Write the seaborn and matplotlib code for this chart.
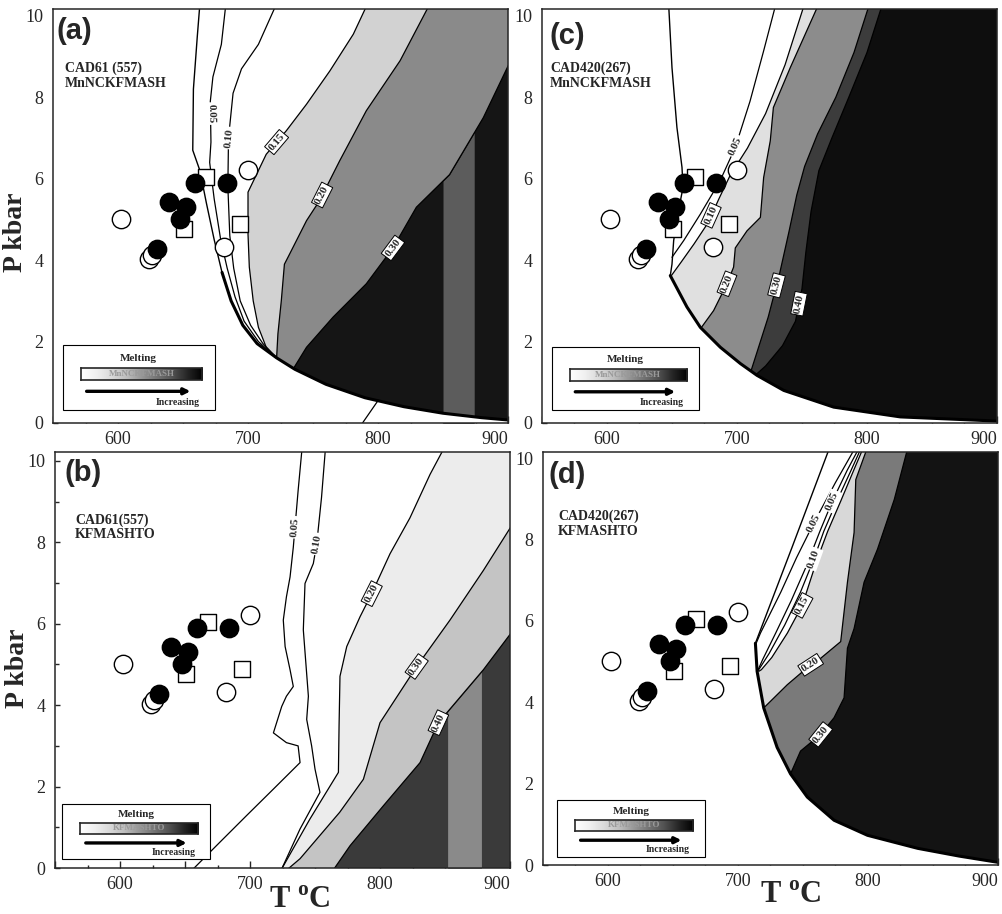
import numpy as np
import matplotlib
matplotlib.use('Agg')
import matplotlib.pyplot as plt
from matplotlib.ticker import MultipleLocator
import seaborn as sns

# P-T estimates of the samples (same in every panel)
OPEN_T = [602, 624, 626, 681.5, 700]
OPEN_P = [5.02, 4.02, 4.13, 4.33, 6.21]
FILLED_T = [630, 639, 652, 648, 659, 684]
FILLED_P = [4.28, 5.42, 5.3, 5.02, 5.89, 5.9]
SQUARE_T = [668, 650.5, 693.5]
SQUARE_P = [6.05, 4.77, 4.89]

# (a) CAD61 MnNCKFMASH
A_SOL_T = [663, 661, 658, 657.5, 663, 668, 674, 680, 687, 696, 707, 722, 736, 760, 790, 820, 850, 880, 905]
A_SOL_P = [10.3, 9.5, 8.2, 6.7, 6.2, 5.4, 4.5, 3.7, 3.0, 2.4, 1.95, 1.6, 1.32, 0.95, 0.62, 0.4, 0.24, 0.13, 0.06]
A_05_T = [683, 679.5, 673, 671, 671.5, 670.5, 674, 679, 684, 690, 697, 708, 722]
A_05_P = [10.3, 9.3, 8.5, 7.9, 6.9, 6.4, 5.5, 4.5, 3.8, 3.1, 2.5, 2.0, 1.6]
A_10_T = [722, 708, 695, 688.5, 685, 684.5, 686, 689, 694, 702, 711.5, 722]
A_10_P = [10.3, 9.3, 8.7, 8.1, 7.0, 5.8, 4.6, 3.8, 3.0, 2.4, 1.95, 1.6]
A_15_T = [792, 781, 763, 745, 729.5, 714, 700, 700, 701, 704, 708, 714, 722]
A_15_P = [10.3, 9.55, 8.65, 7.83, 7.18, 6.6, 5.67, 4.64, 3.83, 3.0, 2.35, 1.86, 1.6]
A_20_T = [840, 817, 791, 770.5, 755, 745, 732, 728, 725.6, 723, 722]
A_20_P = [10.3, 8.9, 7.67, 6.44, 5.46, 4.97, 4.15, 3.9, 3.0, 2.19, 1.6]
A_30_T = [905, 881, 855, 829.5, 811.5, 791, 765.4, 745, 735]
A_30_P = [9.1, 7.5, 6.1, 5.3, 4.3, 3.42, 2.6, 1.86, 1.34]
A_X_T = [787, 800]
A_X_P = [-0.05, 0.55]
A_BAND_T = [850, 874]
A_LAB_TXT = ['0.05', '0.10', '0.15', '0.20', '0.30']
A_LAB_T = [672, 685.5, 722, 757, 811.5]
A_LAB_P = [7.6, 7.0, 6.9, 5.6, 4.3]

# (b) CAD61 KFMASHTO
B_05_T = [740, 737, 734.6, 733.3, 730.8, 728, 725.6, 727, 730.8, 733.3, 728, 724.4, 718, 728, 737, 738.5, 718, 697.4, 677, 656.4]
B_05_P = [10.3, 9.27, 8.37, 7.88, 7.15, 6.66, 6.09, 5.44, 4.87, 4.46, 4.22, 3.97, 3.32, 3.08, 3.0, 2.59, 1.94, 1.29, 0.64, -0.02]
B_10_T = [758, 755, 751.3, 748.7, 742.3, 741, 744.9, 743.6, 747.4, 750, 753.8, 738.5, 724.4]
B_10_P = [10.3, 9.1, 7.96, 7.48, 6.99, 5.85, 4.22, 3.65, 3.0, 2.43, 1.86, 0.96, -0.02]
B_20_T = [849, 838.5, 823, 807.7, 793.6, 784.6, 774.4, 769.2, 768.5, 768, 746, 724.4]
B_20_P = [10.3, 9.67, 8.6, 7.72, 6.74, 6.17, 5.44, 4.71, 3.5, 2.35, 1.2, -0.02]
B_30_T = [905, 879.5, 853.8, 828.2, 800, 787.2, 769, 738.5, 728.2]
B_30_P = [8.6, 7.31, 6.09, 4.95, 3.57, 2.18, 1.37, 0.23, -0.05]
B_40_T = [905, 879.5, 844.9, 830.8, 802.6, 777, 764]
B_40_P = [5.95, 4.87, 3.57, 2.59, 1.53, 0.55, -0.05]
B_BAND_T = [852, 878]
B_LAB_TXT = ['0.05', '0.10', '0.20', '0.30', '0.40']
B_LAB_T = [734.6, 751.3, 793.6, 828.2, 844.9]
B_LAB_P = [8.37, 7.96, 6.74, 4.95, 3.57]

# (c) CAD420 MnNCKFMASH
C_SOL_T = [647.4, 650, 653.8, 657.7, 658.5, 654, 651.3, 650, 648.7, 661.5, 671.8, 687.2, 702.6, 715.4, 736, 774.4, 825.6, 905]
C_SOL_P = [10.3, 8.73, 7.26, 6.28, 5.79, 5.05, 4.48, 3.9, 3.62, 2.85, 2.35, 1.86, 1.46, 1.17, 0.8, 0.39, 0.15, 0.04]
C_05_T = [730, 720.5, 710, 698.7, 687, 671.8, 659, 650]
C_05_P = [10.3, 9.14, 7.9, 6.77, 5.95, 5.13, 4.48, 4.07]
C_10_T = [752, 737, 722, 708, 695, 686, 678, 667, 657, 649.5]
C_10_P = [10.3, 8.8, 7.6, 6.75, 6.1, 5.5, 4.93, 4.4, 3.95, 3.62]
C_20_T = [763, 741, 728, 725.6, 720.5, 718, 707.7, 698.7, 697.4, 692.3, 682, 672]
C_20_P = [10.3, 8.73, 7.75, 6.93, 6.03, 5.05, 4.72, 4.3, 3.83, 3.42, 2.76, 2.32]
C_30_T = [802, 790, 776, 762, 752, 746, 740, 733, 724, 716, 711]
C_30_P = [10.3, 9.1, 8.0, 7.1, 6.3, 5.6, 4.7, 3.7, 2.6, 1.8, 1.3]
C_40_T = [812, 800, 786, 773, 763, 757, 753, 750, 745, 735, 722, 715]
C_40_P = [10.3, 9.1, 8.0, 7.0, 6.2, 5.2, 4.2, 3.3, 2.5, 1.9, 1.4, 1.2]
C_LAB_TXT = ['0.05', '0.10', '0.20', '0.30', '0.40']
C_LAB_T = [699, 680, 692.3, 730.4, 747.7]
C_LAB_P = [6.8, 5.1, 3.42, 3.38, 2.93]

# (d) CAD420 KFMASHTO
D_SOL_T = [771, 741.5, 713.4, 714.7, 719.8, 730.1, 740.4, 753.3, 773.9, 799.6, 838.2, 870, 905]
D_SOL_P = [10.3, 7.8, 5.45, 4.76, 3.86, 2.89, 2.24, 1.67, 1.1, 0.73, 0.41, 0.22, 0.04]
D_05A_T = [791, 775, 758.4, 745, 733, 717.3, 714]
D_05A_P = [10.3, 9.4, 8.41, 7.55, 6.71, 5.7, 5.45]
D_05B_T = [794, 784, 772.6, 763, 752, 741, 729, 719, 715.5]
D_05B_P = [10.3, 9.7, 8.94, 8.2, 7.3, 6.5, 5.7, 5.05, 4.8]
D_10_T = [795.5, 787, 776, 766, 758.4, 748, 736, 724, 717, 715.5]
D_10_P = [10.3, 9.7, 8.94, 8.2, 7.52, 6.7, 5.9, 5.2, 4.85, 4.78]
D_15_T = [797, 789, 779, 769, 761, 749.4, 738, 726, 718, 716]
D_15_P = [10.3, 9.7, 8.94, 8.2, 7.52, 6.38, 5.7, 5.1, 4.8, 4.76]
D_20_T = [800, 790.6, 789.3, 784.2, 779, 763.6, 755.9, 737.9, 719.8]
D_20_P = [10.3, 9.47, 8.17, 6.95, 5.49, 5.08, 4.92, 4.43, 3.86]
D_30_T = [831, 820.2, 807.3, 797, 789.3, 784.2, 781.6, 773.9, 763.6, 748.1, 740.4]
D_30_P = [10.3, 8.98, 7.76, 6.95, 5.81, 5.33, 4.11, 3.62, 3.21, 2.8, 2.24]
D_LAB_TXT = ['0.05', '0.05', '0.10', '0.15', '0.20', '0.30']
D_LAB_T = [758.4, 772.6, 758.4, 749.4, 755.9, 763.6]
D_LAB_P = [8.41, 8.94, 7.52, 6.38, 4.92, 3.21]

T_TICKS = [550, 600, 650, 700, 750, 800, 850, 900]
T_TICK_LABELS = ['', '600', '', '700', '', '800', '', '900']
T_MIN, T_MAX = 550, 900
T_FAR, T_NEAR = 1000, 500

PANELS = [
    dict(letter='(a)', sample='CAD61 (557)\nMnNCKFMASH', key='MnNCKFMASH',
         pos=[0.0529, 0.5372, 0.4541, 0.4530], ytop=10.17,
         letter_xy=(0.008, 0.980), sample_xy=(0.026, 0.872),
         key_box=[0.021, 0.031, 0.334, 0.157],
         solidus=(A_SOL_T, A_SOL_P), thick_from=7,
         shaded=[(A_15_T, A_15_P, '#d2d2d2'), (A_20_T, A_20_P, '#8a8a8a'), (A_30_T, A_30_P, '#151515')],
         band=(A_BAND_T, '#5c5c5c'),
         lines=[(A_05_T, A_05_P), (A_10_T, A_10_P), (A_X_T, A_X_P)],
         labels=(A_LAB_TXT, A_LAB_T, A_LAB_P,
                 [(A_05_T, A_05_P), (A_10_T, A_10_P), (A_15_T, A_15_P), (A_20_T, A_20_P), (A_30_T, A_30_P)],
                 [False, False, True, True, True]),
         ylabel=(-0.056, 0.46), xlabel=None),
    dict(letter='(b)', sample='CAD61(557)\nKFMASHTO', key='KFMASHTO',
         pos=[0.0549, 0.0503, 0.4541, 0.4552], ytop=10.22,
         letter_xy=(0.020, 0.982), sample_xy=(0.044, 0.853),
         key_box=[0.016, 0.022, 0.325, 0.132],
         solidus=None, thick_from=0,
         shaded=[(B_20_T, B_20_P, '#ececec'), (B_30_T, B_30_P, '#c4c4c4'), (B_40_T, B_40_P, '#3a3a3a')],
         band=(B_BAND_T, '#8a8a8a'),
         lines=[(B_05_T, B_05_P), (B_10_T, B_10_P)],
         labels=(B_LAB_TXT, B_LAB_T, B_LAB_P,
                 [(B_05_T, B_05_P), (B_10_T, B_10_P), (B_20_T, B_20_P), (B_30_T, B_30_P), (B_40_T, B_40_P)],
                 [False, False, True, True, True]),
         ylabel=(-0.056, 0.48), xlabel=(0.537, -0.044)),
    dict(letter='(c)', sample='CAD420(267)\nMnNCKFMASH', key='MnNCKFMASH',
         pos=[0.5409, 0.5372, 0.4541, 0.4530], ytop=10.17,
         letter_xy=(0.016, 0.968), sample_xy=(0.018, 0.872),
         key_box=[0.022, 0.031, 0.322, 0.153],
         solidus=(C_SOL_T, C_SOL_P), thick_from=8,
         shaded=[(C_10_T, C_10_P, '#e0e0e0'), (C_20_T, C_20_P, '#8c8c8c'),
                 (C_30_T, C_30_P, '#3c3c3c'), (C_40_T, C_40_P, '#0e0e0e')],
         band=None,
         lines=[(C_05_T, C_05_P)],
         labels=(C_LAB_TXT, C_LAB_T, C_LAB_P,
                 [(C_05_T, C_05_P), (C_10_T, C_10_P), (C_20_T, C_20_P), (C_30_T, C_30_P), (C_40_T, C_40_P)],
                 [False, True, True, True, True]),
         ylabel=None, xlabel=None),
    dict(letter='(d)', sample='CAD420(267)\nKFMASHTO', key='KFMASHTO',
         pos=[0.5419, 0.0536, 0.4541, 0.4519], ytop=10.15,
         letter_xy=(0.013, 0.978), sample_xy=(0.033, 0.860),
         key_box=[0.031, 0.020, 0.325, 0.138],
         solidus=(D_SOL_T, D_SOL_P), thick_from=2,
         shaded=[(D_15_T, D_15_P, '#d8d8d8'), (D_20_T, D_20_P, '#7a7a7a'), (D_30_T, D_30_P, '#131313')],
         band=None,
         lines=[(D_05A_T, D_05A_P), (D_05B_T, D_05B_P), (D_10_T, D_10_P)],
         labels=(D_LAB_TXT, D_LAB_T, D_LAB_P,
                 [(D_05A_T, D_05A_P), (D_05B_T, D_05B_P), (D_10_T, D_10_P), (D_15_T, D_15_P),
                  (D_20_T, D_20_P), (D_30_T, D_30_P)],
                 [False, False, False, True, True, True]),
         ylabel=None, xlabel=(0.545, -0.038)),
]

sns.set_style('ticks')
plt.rcParams['font.family'] = 'Liberation Serif'
plt.rcParams['mathtext.fontset'] = 'custom'
plt.rcParams['mathtext.rm'] = 'Liberation Serif:bold'
plt.rcParams['mathtext.bf'] = 'Liberation Serif:bold'


def curve(ax, T, P, lw=0.9):
    sns.lineplot(x=T, y=P, sort=False, estimator=None, color='black',
                 linewidth=lw, ax=ax, legend=False, zorder=3)


def label_angle(ax, T, P, t0, p0):
    pts = ax.transData.transform(np.column_stack([T, P]))
    mid = 0.5 * (pts[1:] + pts[:-1])
    target = ax.transData.transform((t0, p0))
    i = int(np.argmin(np.hypot(*(mid - target).T)))
    dx, dy = pts[i + 1] - pts[i]
    ang = np.degrees(np.arctan2(dy, dx))
    if ang <= -90:
        ang += 180
    elif ang > 90:
        ang -= 180
    return ang


def melt_key(ax, box, name):
    x0, y0, w, h = box
    ax.add_patch(plt.Rectangle((x0, y0), w, h, transform=ax.transAxes, facecolor='white',
                               edgecolor='black', linewidth=0.8, zorder=10))
    ax.text(x0 + 0.5 * w, y0 + 0.80 * h, 'Melting', transform=ax.transAxes, ha='center',
            va='center', fontsize=8, fontweight='bold', zorder=11)
    bar = ax.inset_axes([x0 + 0.12 * w, y0 + 0.46 * h, 0.80 * w, 0.19 * h])
    bar.set_zorder(12)
    bar.imshow(np.linspace(0, 1, 256)[None, :], cmap='Greys', aspect='auto', extent=[0, 1, 0, 1])
    bar.set_xticks([])
    bar.set_yticks([])
    for s in bar.spines.values():
        s.set_linewidth(1.2)
    bar.text(0.5, 0.5, name, transform=bar.transAxes, ha='center', va='center',
             fontsize=6.5, fontweight='bold', color='#9a9a9a')
    ax.annotate('', xy=(x0 + 0.86 * w, y0 + 0.29 * h), xytext=(x0 + 0.14 * w, y0 + 0.29 * h),
                xycoords='axes fraction',
                arrowprops=dict(arrowstyle='-|>', color='black', lw=2.4, mutation_scale=9),
                zorder=11)
    ax.text(x0 + 0.90 * w, y0 + 0.12 * h, 'Increasing', transform=ax.transAxes, ha='right',
            va='center', fontsize=7, fontweight='bold', zorder=11)


fig = plt.figure(figsize=(10.02, 9.14), dpi=100)

for spec in PANELS:
    ax = fig.add_axes(spec['pos'])
    ax.set_xlim(T_MIN, T_MAX)
    ax.set_ylim(0, spec['ytop'])

    # melt-fraction fields, lightest first
    for T, P, col in spec['shaded']:
        poly = list(zip(T, P)) + [(T[-1], -1), (T_FAR, -1), (T_FAR, 11), (T[0], 11)]
        xs, ys = zip(*poly)
        ax.fill(xs, ys, color=col, linewidth=0, zorder=1)
    if spec['band'] is not None:
        (b0, b1), col = spec['band']
        T, P, _ = spec['shaded'][-1]
        tt = np.linspace(b0, b1, 30)
        ax.fill_between(tt, -1, np.interp(tt, T[::-1], P[::-1]), color=col, linewidth=0, zorder=1.5)

    if spec['solidus'] is not None:
        T, P = spec['solidus']
        poly = list(zip(T, P)) + [(T[-1], -1), (T_NEAR, -1), (T_NEAR, 11), (T[0], 11)]
        xs, ys = zip(*poly)
        ax.fill(xs, ys, color='white', linewidth=0, zorder=2)
        k = spec['thick_from']
        curve(ax, T[:k + 1], P[:k + 1], lw=1.0)
        curve(ax, T[k:], P[k:], lw=2.2)

    for T, P, _ in spec['shaded']:
        curve(ax, T, P)
    for T, P in spec['lines']:
        curve(ax, T, P)

    sns.scatterplot(x=SQUARE_T, y=SQUARE_P, marker='s', s=125, color='white', edgecolor='black',
                    linewidth=1.0, ax=ax, legend=False, zorder=5)
    sns.scatterplot(x=OPEN_T, y=OPEN_P, marker='o', s=175, color='white', edgecolor='black',
                    linewidth=1.0, ax=ax, legend=False, zorder=5)
    sns.scatterplot(x=FILLED_T, y=FILLED_P, marker='o', s=175, color='black', edgecolor='black',
                    linewidth=1.0, ax=ax, legend=False, zorder=6)

    texts, lt, lp, owners, boxed = spec['labels']
    for txt, t0, p0, (T, P), bx in zip(texts, lt, lp, owners, boxed):
        ang = label_angle(ax, T, P, t0, p0)
        ax.text(t0, p0, txt, rotation=ang, rotation_mode='anchor', ha='center', va='center',
                fontsize=8, fontweight='bold', zorder=7,
                bbox=dict(boxstyle='square,pad=0.15', facecolor='white',
                          edgecolor='black' if bx else 'none', linewidth=0.7))

    ax.text(*spec['letter_xy'], spec['letter'], transform=ax.transAxes, ha='left', va='top',
            fontsize=21, fontweight='bold', family='Liberation Sans', zorder=8)
    ax.text(*spec['sample_xy'], spec['sample'], transform=ax.transAxes, ha='left', va='top',
            fontsize=10, fontweight='bold', linespacing=1.15, zorder=8)
    melt_key(ax, spec['key_box'], spec['key'])

    ax.set_xticks(T_TICKS, T_TICK_LABELS)
    ax.xaxis.set_minor_locator(MultipleLocator(25))
    ax.yaxis.set_major_locator(MultipleLocator(2))
    ax.yaxis.set_minor_locator(MultipleLocator(1))
    ax.set_xlim(T_MIN, T_MAX)
    ax.set_ylim(0, spec['ytop'])
    ax.tick_params(axis='both', which='both', direction='in', top=False, right=False,
                   labelsize=13, width=1.0)
    ax.tick_params(axis='x', which='major', length=5, pad=6)
    ax.tick_params(axis='x', which='minor', length=2.5)
    ax.tick_params(axis='y', which='major', length=3.5, pad=7)
    ax.tick_params(axis='y', which='minor', length=3)
    for s in ax.spines.values():
        s.set_linewidth(1.1)
        s.set_zorder(9)
    # keep the last temperature label inside the figure
    ax.get_xticklabels()[-1].set_horizontalalignment('right')

    if spec['ylabel'] is not None:
        ax.set_ylabel('P kbar', fontsize=20, fontweight='bold')
        ax.yaxis.set_label_coords(*spec['ylabel'])
    if spec['xlabel'] is not None:
        ax.set_xlabel(r'T $^{\mathbf{o}}$C', fontsize=22, fontweight='bold')
        ax.xaxis.set_label_coords(*spec['xlabel'])

fig.savefig('out.png', dpi=100)
